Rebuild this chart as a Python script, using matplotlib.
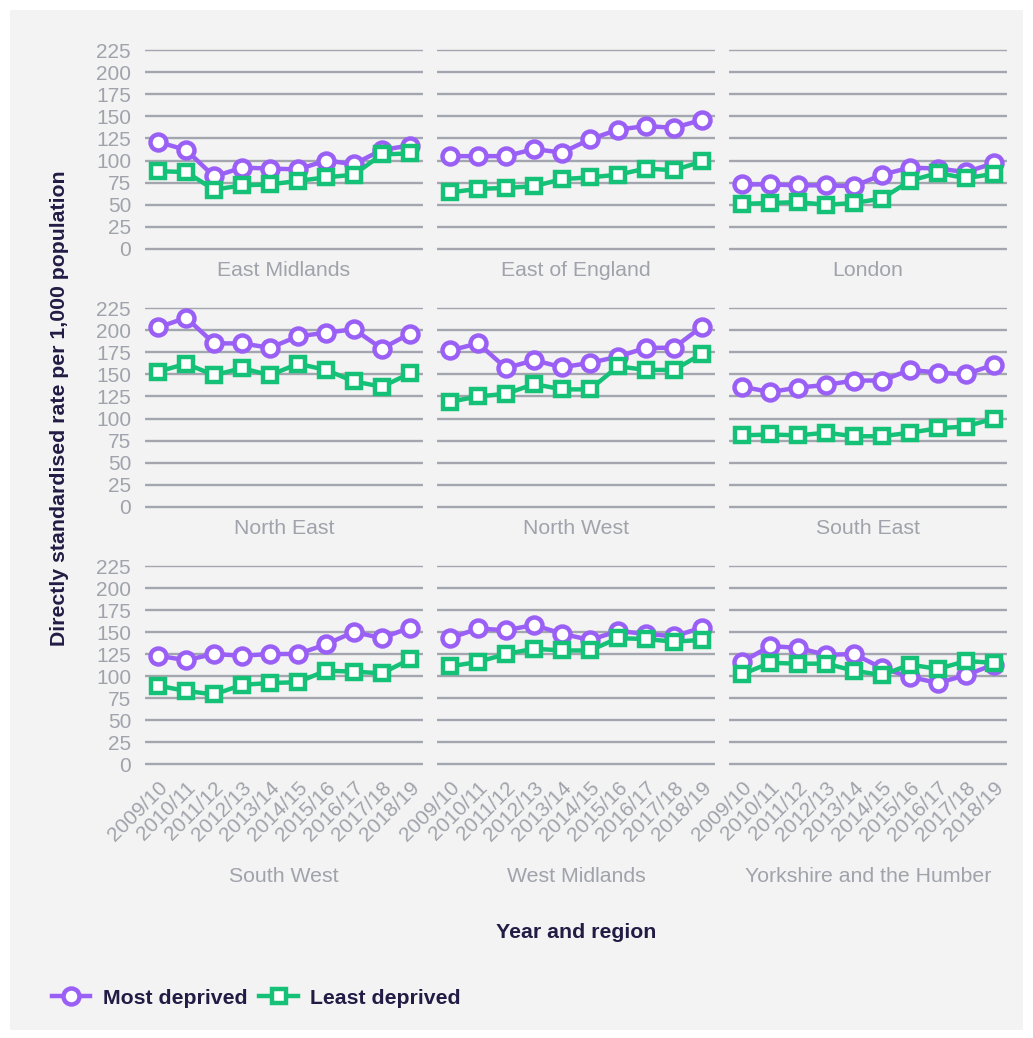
import matplotlib
matplotlib.use("Agg")
import matplotlib.pyplot as plt
from matplotlib.patches import Rectangle

years = ["2009/10", "2010/11", "2011/12", "2012/13", "2013/14",
         "2014/15", "2015/16", "2016/17", "2017/18", "2018/19"]

regions = ["East Midlands", "East of England", "London",
           "North East", "North West", "South East",
           "South West", "West Midlands", "Yorkshire and the Humber"]

most_deprived = {
    "East Midlands":   [121, 112, 82, 92, 91, 90, 100, 96, 112, 117],
    "East of England": [105, 105, 105, 113, 109, 124, 135, 139, 137, 146],
    "London":          [73, 73, 72, 72, 71, 84, 92, 91, 87, 97],
    "North East":      [203, 214, 185, 185, 180, 193, 197, 201, 179, 196],
    "North West":      [177, 185, 157, 166, 158, 163, 170, 180, 180, 204],
    "South East":      [136, 130, 135, 138, 143, 143, 155, 152, 150, 161],
    "South West":      [123, 118, 125, 123, 125, 125, 136, 150, 143, 155],
    "West Midlands":   [143, 154, 152, 158, 148, 141, 151, 148, 145, 155],
    "Yorkshire and the Humber": [116, 134, 132, 124, 125, 109, 99, 92, 101, 113],
}

least_deprived = {
    "East Midlands":   [88, 87, 67, 72, 73, 77, 81, 84, 107, 108],
    "East of England": [64, 68, 69, 71, 79, 81, 84, 91, 89, 99],
    "London":          [51, 52, 53, 50, 52, 57, 77, 86, 80, 85],
    "North East":      [153, 162, 149, 157, 149, 162, 155, 142, 136, 151],
    "North West":      [119, 125, 128, 139, 133, 133, 159, 155, 155, 173],
    "South East":      [81, 82, 81, 84, 80, 80, 84, 89, 91, 100],
    "South West":      [89, 83, 79, 90, 92, 93, 106, 105, 103, 119],
    "West Midlands":   [111, 116, 125, 131, 129, 129, 143, 142, 139, 141],
    "Yorkshire and the Humber": [102, 115, 114, 114, 106, 101, 113, 108, 117, 115],
}

yticks = [0, 25, 50, 75, 100, 125, 150, 175, 200, 225]

PURPLE = "#9a5ff5"
GREEN = "#14c177"
GRID = "#a3a6ae"
TICK = "#a0a3ab"
DARK = "#221c45"
BG = "#f3f3f3"

plt.rcParams["font.family"] = ["Liberation Sans", "DejaVu Sans"]

W, H = 1033, 1038
fig = plt.figure(figsize=(W / 100, H / 100), dpi=100)
fig.patch.set_facecolor("white")
fig.patches.append(Rectangle((10 / W, 1 - 1030 / H), 1013 / W, 1020 / H,
                             transform=fig.transFigure, facecolor=BG,
                             edgecolor="none", zorder=-10))

cols = [(145, 423), (437, 715), (729, 1007)]
rows = [(50, 249), (308, 507), (566, 764)]
title_y = [271, 529, 877]

pad_units = 3
for i, reg in enumerate(regions):
    r, c = divmod(i, 3)
    x0, x1 = cols[c]
    yt, yb = rows[r]
    ppu = (yb - yt) / 225.0
    yt2 = yt - pad_units * ppu
    yb2 = yb + pad_units * ppu
    ax = fig.add_axes([x0 / W, 1 - yb2 / H, (x1 - x0) / W, (yb2 - yt2) / H])
    ax.set_facecolor("none")
    for s in ax.spines.values():
        s.set_visible(False)
    ax.set_ylim(-pad_units, 225 + pad_units)
    ax.set_xlim(-0.47, len(years) - 1 + 0.47)
    for v in yticks:
        ax.axhline(v, color=GRID, lw=1.0 if v == 225 else 1.7, zorder=0)
    xs = list(range(len(years)))
    ax.plot(xs, most_deprived[reg], color=PURPLE, lw=3.2, marker="o",
            markersize=11.5, markerfacecolor="white", markeredgewidth=3.2,
            label="Most deprived", zorder=3)
    ax.plot(xs, least_deprived[reg], color=GREEN, lw=3.2, marker="s",
            markersize=10.5, markerfacecolor="white", markeredgewidth=3.2,
            label="Least deprived", zorder=4)
    ax.set_yticks(yticks)
    ax.tick_params(axis="both", length=0, colors=TICK, labelsize=15, pad=10)
    if c == 0:
        ax.set_yticklabels([str(v) for v in yticks])
    else:
        ax.set_yticklabels([])
    ax.set_xticks(xs)
    if r == 2:
        ax.set_xticklabels(years, rotation=45, ha="right", rotation_mode="anchor")
        ax.tick_params(axis="x", pad=8)
    else:
        ax.set_xticklabels([])
    fig.text((x0 + x1) / 2 / W, 1 - title_y[r] / H, reg, ha="center",
             va="center", fontsize=15.3, color=TICK)
    if i == 0:
        handles, labels = ax.get_legend_handles_labels()

fig.text(60 / W, 1 - 408 / H, "Directly standardised rate per 1,000 population",
         rotation=90, ha="center", va="center", fontsize=15.3,
         fontweight="bold", color=DARK)
fig.text(576 / W, 1 - 933 / H, "Year and region", ha="center", va="center",
         fontsize=15.3, fontweight="bold", color=DARK)

leg = fig.legend(handles, labels, loc="center left",
                 bbox_to_anchor=(33 / W, 1 - 998 / H), ncol=2, frameon=False,
                 handlelength=1.8, handletextpad=0.6, columnspacing=0.55,
                 prop={"weight": "bold", "size": 15.3})
for t in leg.get_texts():
    t.set_color(DARK)

fig.savefig("out.png", dpi=100, facecolor="white")
